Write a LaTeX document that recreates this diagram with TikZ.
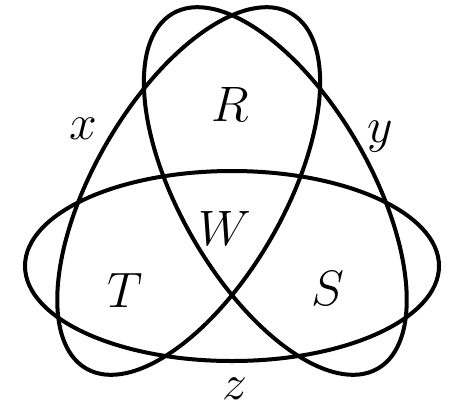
\documentclass[tikz,border=0pt]{standalone}
\usepackage{amsmath}
\usepackage{tikz}
\newcommand{\vennlw}{2pt}
\tikzset{venncurve/.style={line width=\vennlw, draw=black}}
\tikzset{vennlabel/.style={inner sep=0pt, font=\fontsize{27}{30}\selectfont}}
\begin{document}
\begin{tikzpicture}[x=0.5pt,y=0.5pt]
\useasboundingbox (0,0) rectangle (454,409);

\draw[venncurve] (232,143) ellipse [x radius=207, y radius=95];
\draw[venncurve, rotate around={60:(188.7,218)}] (188.7,218) ellipse [x radius=205, y radius=95];
\draw[venncurve, rotate around={-60:(275.3,218)}] (275.3,218) ellipse [x radius=205, y radius=95];

\node[vennlabel] (r) at (230,305) {$R$};
\node[vennlabel] (w) at (225,181) {$W$};
\node[vennlabel] (t) at (125,119) {$T$};
\node[vennlabel] (s) at (328,121) {$S$};

%\node[] (o) at (232,193) {};

\node[vennlabel] (x) at (83,280) {$x$};
\node[vennlabel] (y) at (380,272) {$y$};
\node[vennlabel] (z) at (235,20) {$z$};
\end{tikzpicture}
\end{document}
